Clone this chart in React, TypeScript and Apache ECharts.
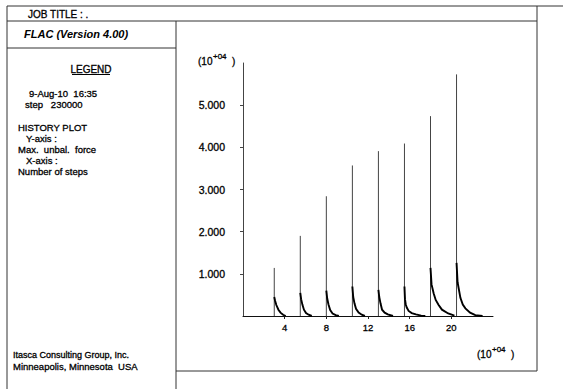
import React, { useEffect, useRef } from "react";
import * as echarts from "echarts";

// Number of steps (x 10^4) at which each spike occurs
const spikeSteps = [3, 5.5, 8, 10.5, 13, 15.5, 18, 20.5];
// Peak of max. unbalanced force (x 10^4) at each spike
const spikePeaks = [1.14, 1.9, 2.84, 3.57, 3.91, 4.09, 4.74, 5.73];
// Decay after each spike: [steps, force] (x 10^4)
const decay1 = [[3, 0.45], [3.08, 0.36], [3.2, 0.26], [3.4, 0.15], [3.6, 0.08], [3.85, 0.03], [4.1, 0]];
const decay2 = [[5.5, 0.55], [5.58, 0.4], [5.7, 0.27], [5.85, 0.15], [6.05, 0.07], [6.3, 0.03], [6.6, 0]];
const decay3 = [[8, 0.6], [8.08, 0.42], [8.2, 0.28], [8.37, 0.14], [8.6, 0.06], [8.9, 0.02], [9.2, 0]];
const decay4 = [[10.5, 0.7], [10.58, 0.45], [10.7, 0.3], [10.85, 0.17], [11.1, 0.08], [11.4, 0.03], [11.7, 0]];
const decay5 = [[13, 0.62], [13.08, 0.45], [13.2, 0.3], [13.35, 0.15], [13.6, 0.08], [13.9, 0.04], [14.4, 0]];
const decay6 = [[15.5, 0.7], [15.55, 0.4], [15.62, 0.28], [15.72, 0.2], [15.9, 0.12], [16.2, 0.07], [16.6, 0.04], [17.1, 0.01], [17.5, 0]];
const decay7 = [[18, 1.14], [18.1, 0.75], [18.3, 0.54], [18.5, 0.38], [18.78, 0.26], [19.1, 0.15], [19.7, 0.06], [20.3, 0.01]];
const decay8 = [[20.5, 1.26], [20.6, 0.8], [20.87, 0.43], [21.1, 0.27], [21.35, 0.18], [21.8, 0.08], [22.3, 0.02], [23, 0]];
const decayCurves = [decay1, decay2, decay3, decay4, decay5, decay6, decay7, decay8];

const xTickValues = [4, 8, 12, 16, 20];
const yTickValues = [1, 2, 3, 4, 5];

const legendLines = [
  { text: "9-Aug-10  16:35", x: 29, y: 93 },
  { text: "step   230000", x: 25, y: 104 },
  { text: "HISTORY PLOT", x: 18, y: 127 },
  { text: "Y-axis :", x: 26, y: 138 },
  { text: "Max.  unbal.  force", x: 18, y: 149 },
  { text: "X-axis :", x: 26, y: 160 },
  { text: "Number of steps", x: 18, y: 171 },
];

const FF = '"Liberation Sans", Arial, Helvetica, sans-serif';

function txt(text: string, x: number, y: number, size: number, extra: any = {}) {
  return {
    type: "text",
    silent: true,
    style: {
      text,
      x,
      y,
      fill: "#000",
      stroke: "#000",
      lineWidth: extra.weight ? 0 : 0.3,
      font: `${extra.style || ""} ${extra.weight || ""} ${size}px ${FF}`,
      textAlign: extra.align || "left",
      textVerticalAlign: "middle",
    },
  };
}

function ln(x1: number, y1: number, x2: number, y2: number, color = "#333", w = 1) {
  return {
    type: "line",
    silent: true,
    shape: { x1, y1, x2, y2 },
    style: { stroke: color, lineWidth: w },
  };
}

export default function App() {
  const ref = useRef<HTMLDivElement>(null);
  useEffect(() => {
    document.body.style.margin = "0";
    const chart = echarts.init(ref.current!, null, { renderer: "svg" });
    const series: any[] = [];
    spikeSteps.forEach((s, i) => {
      series.push({
        type: "line",
        data: [[s, 0], [s, spikePeaks[i]]],
        symbol: "none",
        silent: true,
        lineStyle: { color: "#444", width: 1 },
        z: 2,
      });
      series.push({
        type: "line",
        data: decayCurves[i],
        symbol: "none",
        silent: true,
        lineStyle: { color: "#000", width: 1.9, join: "miter", cap: "butt" },
        z: 3,
      });
    });
    chart.setOption({
      animation: false,
      backgroundColor: "#fff",
      grid: { left: 243, right: 70, top: 63, bottom: 73, containLabel: false, outerBoundsMode: "none" },
      xAxis: {
        type: "value",
        min: 0,
        max: 24,
        interval: 4,
        axisLine: { show: true, lineStyle: { color: "#111", width: 1 } },
        axisTick: { show: true, customValues: xTickValues, length: 3, lineStyle: { color: "#222" } },
        axisLabel: {
          customValues: xTickValues,
          fontSize: 9.5,
          color: "#000",
          fontFamily: FF,
          textBorderColor: "#000",
          textBorderWidth: 0.3,
          margin: 6,
        },
        splitLine: { show: false },
      },
      yAxis: {
        type: "value",
        min: 0,
        max: 6,
        interval: 1,
        axisLine: { show: true, lineStyle: { color: "#444", width: 1 } },
        axisTick: { show: true, customValues: yTickValues, length: 3, lineStyle: { color: "#444" } },
        axisLabel: {
          customValues: yTickValues,
          fontSize: 10.5,
          color: "#000",
          fontFamily: FF,
          textBorderColor: "#000",
          textBorderWidth: 0.3,
          margin: 18,
          formatter: (v: number) => v.toFixed(3),
        },
        splitLine: { show: false },
      },
      series,
      graphic: [
        ln(7, 6, 563, 6),
        ln(7, 21, 537, 21),
        ln(7, 6, 7, 389),
        ln(537, 6, 537, 371),
        ln(176, 21, 176, 389),
        ln(7, 48, 176, 48),
        ln(176, 371, 537, 371),
        txt("JOB TITLE : .", 28, 14, 10),
        txt("FLAC (Version 4.00)", 24, 34, 11, { style: "italic", weight: "bold" }),
        txt("LEGEND", 91, 69, 10, { align: "center" }),
        ln(72, 74.5, 110, 74.5, "#000", 1),
        ...legendLines.map((l) => txt(l.text, l.x, l.y, 9.5)),
        txt("Itasca Consulting Group, Inc.", 13, 355, 9),
        txt("Minneapolis, Minnesota  USA", 13, 366, 9.5),
        txt("(10", 198, 61, 10),
        txt("+04", 213, 56, 8),
        txt(")", 232, 61, 10),
        txt("(10", 477, 354, 10),
        txt("+04", 492, 349, 8),
        txt(")", 511, 354, 10),
      ],
    });
    return () => chart.dispose();
  }, []);
  return <div ref={ref} style={{ width: 563, height: 389 }} />;
}
